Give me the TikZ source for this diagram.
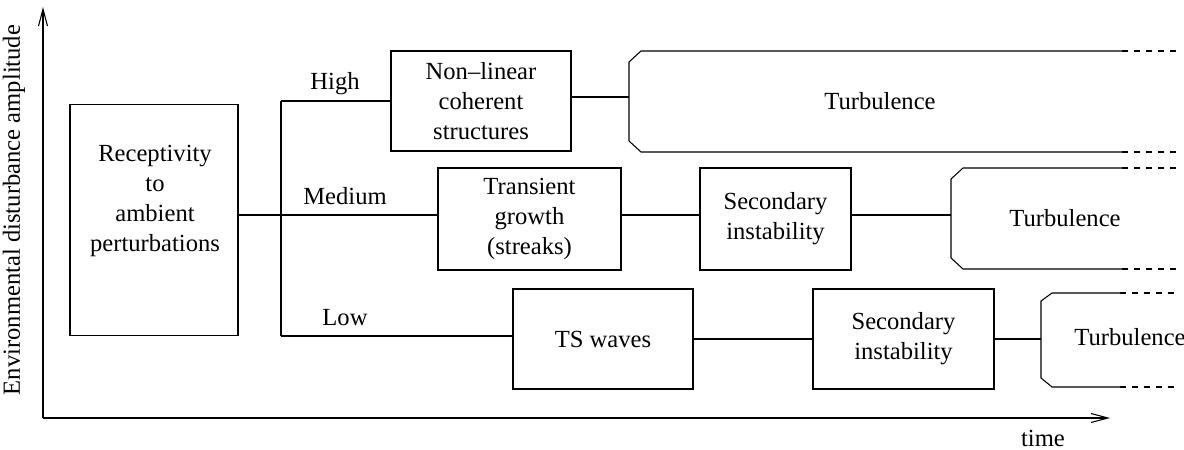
\documentclass[tikz,border=0pt]{standalone}
\usepackage{fontspec}
\setmainfont{Liberation Serif}
\usetikzlibrary{arrows.meta}

\begin{document}
\begin{tikzpicture}[
	font=\fontsize{14}{17}\selectfont,
	stage/.style={draw,semithick,align=center,inner sep=0pt},
	axis/.style={semithick,-{Straight Barb[length=3.4mm,width=1.8mm]}},
	tail/.style={semithick,dash pattern=on 0.12cm off 0.12cm}
	]
	\useasboundingbox (0,0) rectangle (23.68,8.98);

	%axes
	\coordinate (org) at (0.86,0.62);
	\coordinate (ytip) at (0.86,8.84);
	\coordinate (xtip) at (22.2,0.62);
	\draw[axis] (org)--(ytip);
	\draw[axis] (org)--(xtip);
	\node[rotate=90] (ylab) at (0.28,4.78) {Environmental disturbance amplitude};
	\node (xlab) at (20.86,0.22) {time};

	%receptivity
	\node[stage,minimum width=3.36cm,minimum height=4.62cm] (rec) at (3.08,4.58) {};
	\node[align=center] (rectxt) at (3.1,4.96) {Receptivity\\to\\ambient\\perturbations};
	\coordinate (jn) at (5.62,4.68);
	\coordinate (hi) at (5.62,6.96);
	\coordinate (lo) at (5.62,2.26);
	\draw[semithick] (rec.east |- jn)--(jn);
	\draw[semithick] (hi)--(lo);

	%high
	\node[stage,minimum width=3.6cm,minimum height=2cm] (nl) at (9.62,6.96) {Non–linear\\coherent\\structures};
	\node (high) at (6.7,7.3) {High};
	\draw[semithick] (hi)--(hi -| nl.west);
	\coordinate (t1) at (12.58,7.04);
	\draw[semithick] (nl.east |- t1)--(t1);
	\draw[semithick] (22.44,7.96)--(12.82,7.96)--(12.58,7.74)--(12.58,6.16)--(12.82,5.94)--(22.44,5.94);
	\draw[tail] (22.44,7.96)--(23.54,7.96);
	\draw[tail] (22.44,5.94)--(23.54,5.94);
	\node (turb1) at (17.6,6.96) {Turbulence};

	%medium
	\node[stage,minimum width=3.66cm,minimum height=2.04cm] (tr) at (10.59,4.6) {Transient\\growth\\(streaks)};
	\node[stage,minimum width=3.02cm,minimum height=2.04cm] (sec1) at (15.51,4.6) {Secondary\\instability};
	\node (med) at (6.9,5.06) {Medium};
	\coordinate (t2) at (19.02,4.68);
	\draw[semithick] (jn)--(tr.west |- jn);
	\draw[semithick] (tr.east |- jn)--(sec1.west |- jn);
	\draw[semithick] (sec1.east |- t2)--(t2);
	\draw[semithick] (22.44,5.62)--(19.26,5.62)--(19.02,5.4)--(19.02,3.82)--(19.26,3.6)--(22.44,3.6);
	\draw[tail] (22.44,5.62)--(23.54,5.62);
	\draw[tail] (22.44,3.6)--(23.54,3.6);
	\node (turb2) at (21.3,4.62) {Turbulence};

	%low
	\node[stage,minimum width=3.6cm,minimum height=2cm] (ts) at (12.06,2.2) {TS waves};
	\node[stage,minimum width=3.62cm,minimum height=2cm] (sec2) at (18.07,2.2) {Secondary\\instability};
	\node (low) at (6.9,2.62) {Low};
	\coordinate (t3) at (20.82,2.2);
	\draw[semithick] (lo)--(lo -| ts.west);
	\draw[semithick] (ts)--(sec2);
	\draw[semithick] (sec2.east)--(t3);
	\draw[semithick] (22.4,3.12)--(21.04,3.12)--(20.82,2.96)--(20.82,1.42)--(21.04,1.24)--(22.4,1.24);
	\draw[tail] (22.4,3.12)--(23.54,3.12);
	\draw[tail] (22.4,1.24)--(23.54,1.24);
	\node (turb3) at (22.6,2.24) {Turbulence};
\end{tikzpicture}
\end{document}
